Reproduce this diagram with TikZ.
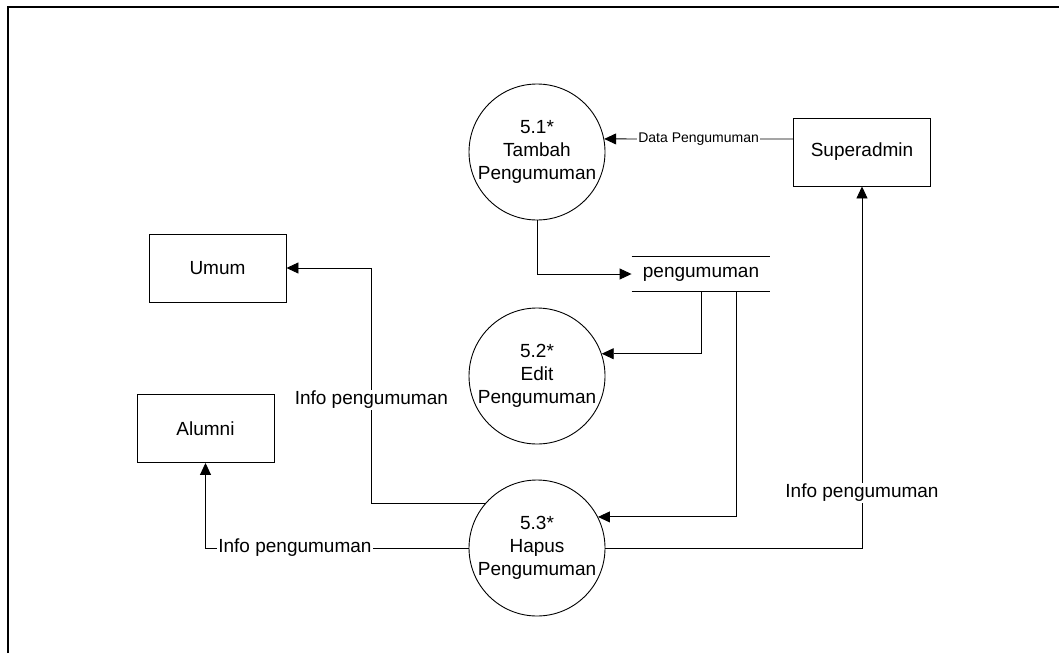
\documentclass[tikz,border=0pt]{standalone}
\usepackage{fontspec}
\setmainfont{Liberation Sans}
\usetikzlibrary{arrows.meta,positioning,calc}
\tikzset{
  proc/.style={draw, circle, minimum size=136pt, inner sep=0pt, align=center, font=\fontsize{19}{23}\selectfont},
  ent/.style={draw, rectangle, minimum width=137pt, minimum height=68pt, align=center, font=\fontsize{19}{23}\selectfont},
  store/.style={rectangle, minimum width=138pt, minimum height=34pt, inner sep=0pt, font=\fontsize{19}{23}\selectfont},
  arrow/.style={-{Triangle[length=12pt,width=11pt]}, line width=0.9pt},
  lbl/.style={fill=white, inner sep=1pt, font=\fontsize{19}{23}\selectfont},
  lblsmall/.style={lbl, font=\fontsize{14}{16}\selectfont},
}

\begin{document}
\begin{tikzpicture}[x=1pt, y=-1pt, line width=0.9pt]
  \useasboundingbox (0,0) rectangle (1059,653);
  \draw[line width=1.6pt] (8,653) -- (8,7) -- (1059,7);

  % processes
  \node[proc] (p51) at (537,152) {5.1*\\Tambah\\Pengumuman};
  \node[proc] (p52) at (537,376) {5.2*\\Edit\\Pengumuman};
  \node[proc] (p53) at (537,548) {5.3*\\Hapus\\Pengumuman};

  % external entities
  \node[ent] (super) at (862,152) {Superadmin};
  \node[ent] (umum) at (217.5,268) {Umum};
  \node[ent] (alumni) at (205.5,428.5) {Alumni};

  % data store
  \node[store] (store) at (701,274) {pengumuman};
  \draw (store.north west) -- (store.north east);
  \draw (store.south west) -- (store.south east);

  % flows
  \draw[arrow] ([yshift=13pt]super.west) -- node[lblsmall]{Data Pengumuman} (p51.11);
  \draw[arrow] (p51.south) |- (store.west);
  \draw[arrow] (store.south) |- (p52.19);
  \draw[arrow] ([xshift=35pt]store.south) |- (p53.27);
  \draw[arrow] (p53.east) -| node[lbl, pos=0.576]{Info pengumuman} (super.south);
  \draw[arrow] (p53.139) -- ++(-114,0) |- node[lbl, pos=0.22]{Info pengumuman} (umum.east);
  \draw[arrow] (p53.west) -| node[lbl, pos=0.33]{Info pengumuman} (alumni.south);
\end{tikzpicture}
\end{document}
